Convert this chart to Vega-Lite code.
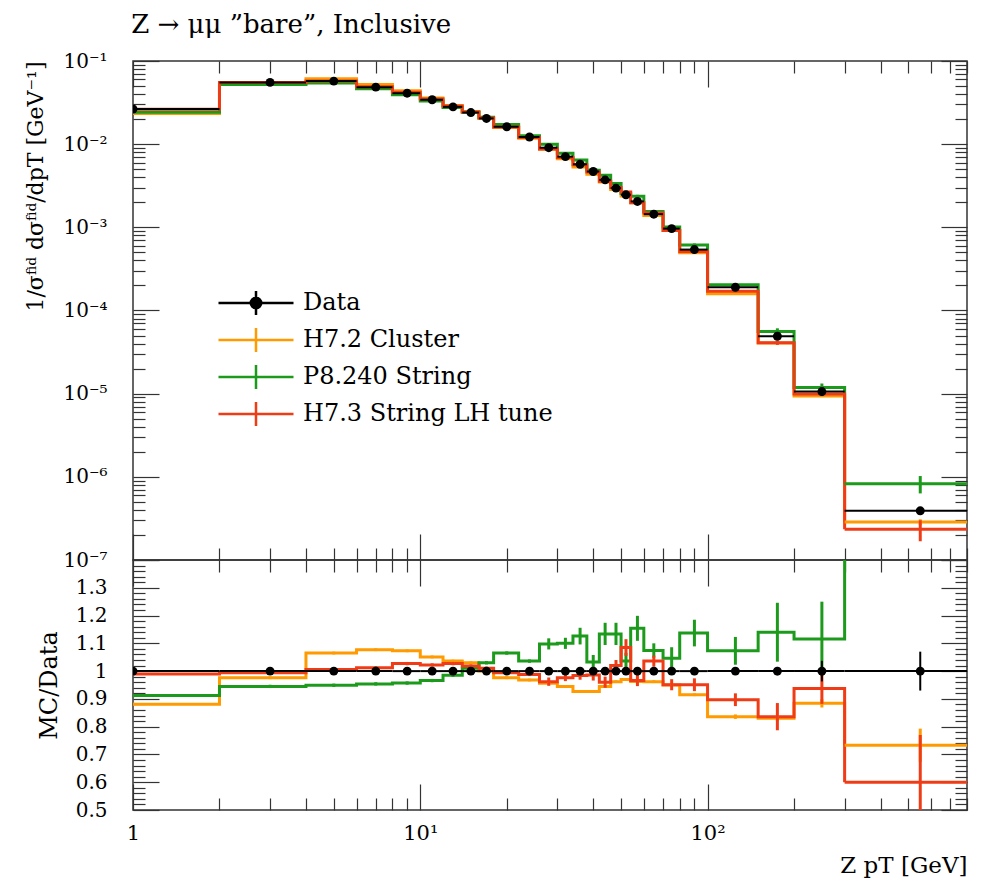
{
  "$schema": "https://vega.github.io/schema/vega-lite/v6.json",
  "padding": {"left": 24, "top": 12, "right": 5, "bottom": 0},
  "title": {"text": "Z → μμ ”bare”, Inclusive", "anchor": "start", "frame": "bounds", "dx": 107, "font": "DejaVu Serif", "fontSize": 26, "fontWeight": "normal", "color": "#000", "offset": 12},
  "datasets": {
    "h": [
      {"s":"H7.2 Cluster","lo":1,"hi":2,"c":1,"y":0.02335,"ye":0.000133,"r":0.881,"re":0.005},
      {"s":"H7.2 Cluster","lo":2,"hi":4,"c":3,"y":0.05397,"ye":0.000277,"r":0.976,"re":0.005},
      {"s":"H7.2 Cluster","lo":4,"hi":6,"c":5,"y":0.06102,"ye":0.000287,"r":1.065,"re":0.005},
      {"s":"H7.2 Cluster","lo":6,"hi":8,"c":7,"y":0.05223,"ye":0.000243,"r":1.077,"re":0.005},
      {"s":"H7.2 Cluster","lo":8,"hi":10,"c":9,"y":0.04399,"ye":0.000205,"r":1.073,"re":0.005},
      {"s":"H7.2 Cluster","lo":10,"hi":12,"c":11,"y":0.03594,"ye":0.000171,"r":1.051,"re":0.005},
      {"s":"H7.2 Cluster","lo":12,"hi":14,"c":13,"y":0.02911,"ye":0.000141,"r":1.036,"re":0.005},
      {"s":"H7.2 Cluster","lo":14,"hi":16,"c":15,"y":0.02472,"ye":0.00012,"r":1.03,"re":0.005},
      {"s":"H7.2 Cluster","lo":16,"hi":18,"c":17,"y":0.0204,"ye":0.000102,"r":1.0,"re":0.005},
      {"s":"H7.2 Cluster","lo":18,"hi":22,"c":20,"y":0.01581,"ye":8.1e-5,"r":0.976,"re":0.005},
      {"s":"H7.2 Cluster","lo":22,"hi":26,"c":24,"y":0.01181,"ye":6.1e-5,"r":0.968,"re":0.005},
      {"s":"H7.2 Cluster","lo":26,"hi":30,"c":28,"y":0.008671,"ye":4.5e-5,"r":0.956,"re":0.005},
      {"s":"H7.2 Cluster","lo":30,"hi":34,"c":32,"y":0.006691,"ye":3.5e-5,"r":0.945,"re":0.005},
      {"s":"H7.2 Cluster","lo":34,"hi":38,"c":36,"y":0.005312,"ye":2.9e-5,"r":0.927,"re":0.005},
      {"s":"H7.2 Cluster","lo":38,"hi":42,"c":40,"y":0.004348,"ye":2.3e-5,"r":0.927,"re":0.005},
      {"s":"H7.2 Cluster","lo":42,"hi":46,"c":44,"y":0.003515,"ye":1.9e-5,"r":0.945,"re":0.005},
      {"s":"H7.2 Cluster","lo":46,"hi":50,"c":48,"y":0.002848,"ye":1.5e-5,"r":0.962,"re":0.005},
      {"s":"H7.2 Cluster","lo":50,"hi":54,"c":52,"y":0.002386,"ye":1.2e-5,"r":0.970,"re":0.005},
      {"s":"H7.2 Cluster","lo":54,"hi":60,"c":57,"y":0.001974,"ye":1.0e-5,"r":0.963,"re":0.005},
      {"s":"H7.2 Cluster","lo":60,"hi":70,"c":65,"y":0.001385,"ye":7.2e-6,"r":0.962,"re":0.005},
      {"s":"H7.2 Cluster","lo":70,"hi":80,"c":75,"y":0.0009168,"ye":4.8e-6,"r":0.950,"re":0.005},
      {"s":"H7.2 Cluster","lo":80,"hi":100,"c":90,"y":0.0004941,"ye":2.7e-6,"r":0.915,"re":0.005},
      {"s":"H7.2 Cluster","lo":100,"hi":150,"c":125,"y":0.0001588,"ye":1.5e-6,"r":0.836,"re":0.008},
      {"s":"H7.2 Cluster","lo":150,"hi":200,"c":175,"y":4.067e-5,"ye":4.9e-7,"r":0.830,"re":0.01},
      {"s":"H7.2 Cluster","lo":200,"hi":300,"c":250,"y":9.37e-6,"ye":1.6e-7,"r":0.884,"re":0.015},
      {"s":"H7.2 Cluster","lo":300,"hi":800,"c":550,"y":2.859e-7,"ye":2.3e-8,"r":0.733,"re":0.06},
      {"s":"P8.240 String","lo":1,"hi":2,"c":1,"y":0.02417,"ye":0.000159,"r":0.912,"re":0.006},
      {"s":"P8.240 String","lo":2,"hi":4,"c":3,"y":0.05226,"ye":0.000332,"r":0.945,"re":0.006},
      {"s":"P8.240 String","lo":4,"hi":6,"c":5,"y":0.05438,"ye":0.000344,"r":0.949,"re":0.006},
      {"s":"P8.240 String","lo":6,"hi":8,"c":7,"y":0.04627,"ye":0.000291,"r":0.954,"re":0.006},
      {"s":"P8.240 String","lo":8,"hi":10,"c":9,"y":0.03924,"ye":0.000246,"r":0.957,"re":0.006},
      {"s":"P8.240 String","lo":10,"hi":12,"c":11,"y":0.03304,"ye":0.000205,"r":0.966,"re":0.006},
      {"s":"P8.240 String","lo":12,"hi":14,"c":13,"y":0.02768,"ye":0.000169,"r":0.985,"re":0.006},
      {"s":"P8.240 String","lo":14,"hi":16,"c":15,"y":0.02424,"ye":0.000144,"r":1.01,"re":0.006},
      {"s":"P8.240 String","lo":16,"hi":18,"c":17,"y":0.02101,"ye":0.000122,"r":1.03,"re":0.006},
      {"s":"P8.240 String","lo":18,"hi":22,"c":20,"y":0.01725,"ye":9.7e-5,"r":1.065,"re":0.006},
      {"s":"P8.240 String","lo":22,"hi":26,"c":24,"y":0.01264,"ye":7.3e-5,"r":1.036,"re":0.006},
      {"s":"P8.240 String","lo":26,"hi":30,"c":28,"y":0.009959,"ye":0.000181,"r":1.098,"re":0.02},
      {"s":"P8.240 String","lo":30,"hi":34,"c":32,"y":0.007788,"ye":0.000142,"r":1.10,"re":0.02},
      {"s":"P8.240 String","lo":34,"hi":38,"c":36,"y":0.006452,"ye":0.000172,"r":1.126,"re":0.03},
      {"s":"P8.240 String","lo":38,"hi":42,"c":40,"y":0.004845,"ye":0.000117,"r":1.033,"re":0.025},
      {"s":"P8.240 String","lo":42,"hi":46,"c":44,"y":0.004218,"ye":0.000149,"r":1.134,"re":0.04},
      {"s":"P8.240 String","lo":46,"hi":50,"c":48,"y":0.003357,"ye":0.000118,"r":1.134,"re":0.04},
      {"s":"P8.240 String","lo":50,"hi":54,"c":52,"y":0.002549,"ye":7.4e-5,"r":1.036,"re":0.03},
      {"s":"P8.240 String","lo":54,"hi":60,"c":57,"y":0.002366,"ye":9.2e-5,"r":1.154,"re":0.045},
      {"s":"P8.240 String","lo":60,"hi":70,"c":65,"y":0.001547,"ye":3.7e-5,"r":1.074,"re":0.026},
      {"s":"P8.240 String","lo":70,"hi":80,"c":75,"y":0.001009,"ye":3.9e-5,"r":1.046,"re":0.04},
      {"s":"P8.240 String","lo":80,"hi":100,"c":90,"y":0.000614,"ye":2.6e-5,"r":1.137,"re":0.048},
      {"s":"P8.240 String","lo":100,"hi":150,"c":125,"y":0.0002039,"ye":9.5e-6,"r":1.073,"re":0.05},
      {"s":"P8.240 String","lo":150,"hi":200,"c":175,"y":5.586e-5,"ye":5.2e-6,"r":1.14,"re":0.106},
      {"s":"P8.240 String","lo":200,"hi":300,"c":250,"y":1.183e-5,"ye":1.42e-6,"r":1.116,"re":0.134},
      {"s":"P8.240 String","lo":300,"hi":800,"c":550,"y":8.27e-7,"ye":1.95e-7,"r":2.12,"re":0.5},
      {"s":"H7.3 String LH tune","lo":1,"hi":2,"c":1,"y":0.02624,"ye":0.000159,"r":0.990,"re":0.006},
      {"s":"H7.3 String LH tune","lo":2,"hi":4,"c":3,"y":0.05497,"ye":0.000332,"r":0.994,"re":0.006},
      {"s":"H7.3 String LH tune","lo":4,"hi":6,"c":5,"y":0.05764,"ye":0.000344,"r":1.006,"re":0.006},
      {"s":"H7.3 String LH tune","lo":6,"hi":8,"c":7,"y":0.04908,"ye":0.000291,"r":1.012,"re":0.006},
      {"s":"H7.3 String LH tune","lo":8,"hi":10,"c":9,"y":0.04211,"ye":0.000246,"r":1.027,"re":0.006},
      {"s":"H7.3 String LH tune","lo":10,"hi":12,"c":11,"y":0.03495,"ye":0.000205,"r":1.022,"re":0.006},
      {"s":"H7.3 String LH tune","lo":12,"hi":14,"c":13,"y":0.02886,"ye":0.000169,"r":1.027,"re":0.006},
      {"s":"H7.3 String LH tune","lo":14,"hi":16,"c":15,"y":0.02443,"ye":0.000144,"r":1.018,"re":0.006},
      {"s":"H7.3 String LH tune","lo":16,"hi":18,"c":17,"y":0.0206,"ye":0.000122,"r":1.010,"re":0.006},
      {"s":"H7.3 String LH tune","lo":18,"hi":22,"c":20,"y":0.0161,"ye":9.7e-5,"r":0.994,"re":0.006},
      {"s":"H7.3 String LH tune","lo":22,"hi":26,"c":24,"y":0.01205,"ye":7.3e-5,"r":0.988,"re":0.006},
      {"s":"H7.3 String LH tune","lo":26,"hi":30,"c":28,"y":0.008725,"ye":0.000136,"r":0.962,"re":0.015},
      {"s":"H7.3 String LH tune","lo":30,"hi":34,"c":32,"y":0.00691,"ye":8.5e-5,"r":0.976,"re":0.012},
      {"s":"H7.3 String LH tune","lo":34,"hi":38,"c":36,"y":0.005638,"ye":8.6e-5,"r":0.984,"re":0.015},
      {"s":"H7.3 String LH tune","lo":38,"hi":42,"c":40,"y":0.004624,"ye":9.4e-5,"r":0.986,"re":0.02},
      {"s":"H7.3 String LH tune","lo":42,"hi":46,"c":44,"y":0.003571,"ye":7.4e-5,"r":0.960,"re":0.02},
      {"s":"H7.3 String LH tune","lo":46,"hi":50,"c":48,"y":0.003019,"ye":5.9e-5,"r":1.020,"re":0.02},
      {"s":"H7.3 String LH tune","lo":50,"hi":54,"c":52,"y":0.002669,"ye":7.4e-5,"r":1.085,"re":0.03},
      {"s":"H7.3 String LH tune","lo":54,"hi":60,"c":57,"y":0.00198,"ye":4.1e-5,"r":0.966,"re":0.02},
      {"s":"H7.3 String LH tune","lo":60,"hi":70,"c":65,"y":0.001492,"ye":2.9e-5,"r":1.036,"re":0.02},
      {"s":"H7.3 String LH tune","lo":70,"hi":80,"c":75,"y":0.0009177,"ye":1.9e-5,"r":0.951,"re":0.02},
      {"s":"H7.3 String LH tune","lo":80,"hi":100,"c":90,"y":0.0005135,"ye":1.24e-5,"r":0.951,"re":0.023},
      {"s":"H7.3 String LH tune","lo":100,"hi":150,"c":125,"y":0.0001704,"ye":4.4e-6,"r":0.897,"re":0.023},
      {"s":"H7.3 String LH tune","lo":150,"hi":200,"c":175,"y":4.096e-5,"ye":2.4e-6,"r":0.836,"re":0.049},
      {"s":"H7.3 String LH tune","lo":200,"hi":300,"c":250,"y":9.93e-6,"ye":5.8e-7,"r":0.937,"re":0.055},
      {"s":"H7.3 String LH tune","lo":300,"hi":800,"c":550,"y":2.34e-7,"ye":6.6e-8,"r":0.60,"re":0.17},
      {"s":"Data","lo":1,"hi":2,"c":1,"y":0.0265,"ye":8e-5,"r":1,"re":0.003},
      {"s":"Data","lo":2,"hi":4,"c":3,"y":0.0553,"ye":0.000166,"r":1,"re":0.003},
      {"s":"Data","lo":4,"hi":6,"c":5,"y":0.0573,"ye":0.000172,"r":1,"re":0.003},
      {"s":"Data","lo":6,"hi":8,"c":7,"y":0.0485,"ye":0.000146,"r":1,"re":0.003},
      {"s":"Data","lo":8,"hi":10,"c":9,"y":0.041,"ye":0.000123,"r":1,"re":0.003},
      {"s":"Data","lo":10,"hi":12,"c":11,"y":0.0342,"ye":0.000103,"r":1,"re":0.003},
      {"s":"Data","lo":12,"hi":14,"c":13,"y":0.0281,"ye":8.4e-5,"r":1,"re":0.003},
      {"s":"Data","lo":14,"hi":16,"c":15,"y":0.024,"ye":7.2e-5,"r":1,"re":0.003},
      {"s":"Data","lo":16,"hi":18,"c":17,"y":0.0204,"ye":6.1e-5,"r":1,"re":0.003},
      {"s":"Data","lo":18,"hi":22,"c":20,"y":0.0162,"ye":4.9e-5,"r":1,"re":0.003},
      {"s":"Data","lo":22,"hi":26,"c":24,"y":0.0122,"ye":3.7e-5,"r":1,"re":0.003},
      {"s":"Data","lo":26,"hi":30,"c":28,"y":0.00907,"ye":2.7e-5,"r":1,"re":0.003},
      {"s":"Data","lo":30,"hi":34,"c":32,"y":0.00708,"ye":2.1e-5,"r":1,"re":0.003},
      {"s":"Data","lo":34,"hi":38,"c":36,"y":0.00573,"ye":1.7e-5,"r":1,"re":0.003},
      {"s":"Data","lo":38,"hi":42,"c":40,"y":0.00469,"ye":1.4e-5,"r":1,"re":0.003},
      {"s":"Data","lo":42,"hi":46,"c":44,"y":0.00372,"ye":1.1e-5,"r":1,"re":0.003},
      {"s":"Data","lo":46,"hi":50,"c":48,"y":0.00296,"ye":8.9e-6,"r":1,"re":0.003},
      {"s":"Data","lo":50,"hi":54,"c":52,"y":0.00246,"ye":7.4e-6,"r":1,"re":0.003},
      {"s":"Data","lo":54,"hi":60,"c":57,"y":0.00205,"ye":6.2e-6,"r":1,"re":0.003},
      {"s":"Data","lo":60,"hi":70,"c":65,"y":0.00144,"ye":4.3e-6,"r":1,"re":0.003},
      {"s":"Data","lo":70,"hi":80,"c":75,"y":0.000965,"ye":4.8e-6,"r":1,"re":0.005},
      {"s":"Data","lo":80,"hi":100,"c":90,"y":0.00054,"ye":4.3e-6,"r":1,"re":0.008},
      {"s":"Data","lo":100,"hi":150,"c":125,"y":0.00019,"ye":1.9e-6,"r":1,"re":0.01},
      {"s":"Data","lo":150,"hi":200,"c":175,"y":4.9e-5,"ye":7.4e-7,"r":1,"re":0.015},
      {"s":"Data","lo":200,"hi":300,"c":250,"y":1.06e-5,"ye":3.9e-7,"r":1,"re":0.037},
      {"s":"Data","lo":300,"hi":800,"c":550,"y":3.9e-7,"ye":2.7e-8,"r":1,"re":0.07}
    ]
  },
  "resolve": {"scale": {"color": "independent"}},
  "spacing": 0,
  "bounds": "flush",
  "vconcat": [
    {
      "width": 834,
      "height": 499,
      "data": {"name": "h"},
      "resolve": {"axis": {"x": "independent", "y": "independent"}},
      "layer": [
        {
          "mark": {"type": "line", "interpolate": "step-after", "strokeWidth": 3, "clip": true},
          "transform": [{"filter": "datum.s != 'Data'"}],
          "encoding": {
            "x": {"field": "lo", "type": "quantitative",
              "scale": {"type": "log", "domain": [1, 800], "nice": false},
              "axis": {"orient": "bottom", "title": null, "labels": false,
                "values": [1,2,3,4,5,6,7,8,9,10,20,30,40,50,60,70,80,90,100,200,300,400,500,600,700,800],
                "tickSize": {"condition": {"test": "datum.value == 1 || datum.value == 10 || datum.value == 100", "value": -26}, "value": -12}}},
            "y": {"field": "y", "type": "quantitative",
              "scale": {"type": "log", "domain": [1e-7, 0.1], "nice": false},
              "axis": {"orient": "left",
                "values": [1e-7,2e-7,3e-7,4e-7,5e-7,6e-7,7e-7,8e-7,9e-7,1e-6,2e-6,3e-6,4e-6,5e-6,6e-6,7e-6,8e-6,9e-6,1e-5,2e-5,3e-5,4e-5,5e-5,6e-5,7e-5,8e-5,9e-5,1e-4,2e-4,3e-4,4e-4,5e-4,6e-4,7e-4,8e-4,9e-4,0.001,0.002,0.003,0.004,0.005,0.006,0.007,0.008,0.009,0.01,0.02,0.03,0.04,0.05,0.06,0.07,0.08,0.09,0.1],
                "labelExpr": "abs(log(datum.value)/LN10 - round(log(datum.value)/LN10)) < 0.001 ? '10⁻' + substring('⁰¹²³⁴⁵⁶⁷⁸⁹', -round(log(datum.value)/LN10), -round(log(datum.value)/LN10) + 1) : ''",
                "tickSize": {"condition": {"test": "abs(log(datum.value)/LN10 - round(log(datum.value)/LN10)) < 0.001", "value": -26}, "value": -12},
                "labelPadding": 52, "labelFontSize": 20,
                "title": "1/σᶠⁱᵈ dσᶠⁱᵈ/dpT [GeV⁻¹]", "titleFontSize": 22, "titleAnchor": "end", "titlePadding": 15}},
            "color": {"field": "s", "type": "nominal",
              "scale": {"domain": ["Data", "H7.2 Cluster", "P8.240 String", "H7.3 String LH tune"], "range": ["#000000", "#ff9a00", "#1c9a1c", "#f03c16"]},
              "legend": {"orient": "none", "legendX": 103, "legendY": 222, "title": null, "padding": 0, "rowPadding": 0,
                "symbolType": "M-2,0H2M0,-0.64V0.64", "symbolSize": 1406, "symbolStrokeWidth": 2.5,
                "labelFont": "DejaVu Serif", "labelFontSize": 24, "labelColor": "#000", "labelOffset": 27, "labelLimit": 500,
                "encode": {"symbols": {"update": {
                  "shape": {"signal": "datum.value === 'Data' ? 'M-2,0H2M0,-0.64V0.64M0.28,0A0.28,0.28 0 1 1 -0.28,0A0.28,0.28 0 1 1 0.28,0Z' : 'M-2,0H2M0,-0.64V0.64'"},
                  "fill": {"signal": "datum.value === 'Data' ? '#000' : 'transparent'"}}}}}}
          }
        },
        {
          "mark": {"type": "rule", "strokeWidth": 3, "clip": true},
          "transform": [{"filter": "datum.s != 'Data' && datum.hi == 800"}],
          "encoding": {
            "x": {"field": "lo", "type": "quantitative",
              "axis": {"orient": "top", "title": null, "labels": false,
                "values": [1,2,3,4,5,6,7,8,9,10,20,30,40,50,60,70,80,90,100,200,300,400,500,600,700,800],
                "tickSize": {"condition": {"test": "datum.value == 1 || datum.value == 10 || datum.value == 100", "value": -26}, "value": -12}}},
            "x2": {"field": "hi"},
            "y": {"field": "y", "type": "quantitative",
              "axis": {"orient": "right", "title": null, "labels": false,
                "values": [1e-7,2e-7,3e-7,4e-7,5e-7,6e-7,7e-7,8e-7,9e-7,1e-6,2e-6,3e-6,4e-6,5e-6,6e-6,7e-6,8e-6,9e-6,1e-5,2e-5,3e-5,4e-5,5e-5,6e-5,7e-5,8e-5,9e-5,1e-4,2e-4,3e-4,4e-4,5e-4,6e-4,7e-4,8e-4,9e-4,0.001,0.002,0.003,0.004,0.005,0.006,0.007,0.008,0.009,0.01,0.02,0.03,0.04,0.05,0.06,0.07,0.08,0.09,0.1],
                "tickSize": {"condition": {"test": "abs(log(datum.value)/LN10 - round(log(datum.value)/LN10)) < 0.001", "value": -26}, "value": -12}}},
            "color": {"field": "s", "type": "nominal"}
          }
        },
        {
          "mark": {"type": "errorbar", "thickness": 3, "clip": true},
          "transform": [{"filter": "datum.s != 'Data'"}],
          "encoding": {
            "x": {"field": "c", "type": "quantitative", "axis": null},
            "y": {"field": "y", "type": "quantitative", "axis": null},
            "yError": {"field": "ye"},
            "color": {"field": "s", "type": "nominal"}
          }
        },
        {
          "mark": {"type": "rule", "color": "#000", "strokeWidth": 2, "clip": true},
          "transform": [{"filter": "datum.s == 'Data'"}],
          "encoding": {
            "x": {"field": "lo", "type": "quantitative", "axis": null},
            "x2": {"field": "hi"},
            "y": {"field": "y", "type": "quantitative", "axis": null}
          }
        },
        {
          "mark": {"type": "errorbar", "thickness": 2, "color": "#000", "clip": true},
          "transform": [{"filter": "datum.s == 'Data'"}],
          "encoding": {
            "x": {"field": "c", "type": "quantitative", "axis": null},
            "y": {"field": "y", "type": "quantitative", "axis": null},
            "yError": {"field": "ye"}
          }
        },
        {
          "mark": {"type": "point", "filled": true, "color": "#000", "size": 80, "opacity": 1, "clip": true},
          "transform": [{"filter": "datum.s == 'Data'"}],
          "encoding": {
            "x": {"field": "c", "type": "quantitative", "axis": null},
            "y": {"field": "y", "type": "quantitative", "axis": null}
          }
        }
      ]
    },
    {
      "width": 834,
      "height": 250,
      "data": {"name": "h"},
      "resolve": {"axis": {"x": "independent", "y": "independent"}},
      "layer": [
        {
          "mark": {"type": "line", "interpolate": "step-after", "strokeWidth": 3, "clip": true},
          "transform": [{"filter": "datum.s != 'Data'"}],
          "encoding": {
            "x": {"field": "lo", "type": "quantitative",
              "scale": {"type": "log", "domain": [1, 800], "nice": false},
              "axis": {"orient": "bottom",
                "values": [1,2,3,4,5,6,7,8,9,10,20,30,40,50,60,70,80,90,100,200,300,400,500,600,700,800],
                "labelExpr": "datum.value == 1 ? '1' : datum.value == 10 ? '10¹' : datum.value == 100 ? '10²' : ''",
                "tickSize": {"condition": {"test": "datum.value == 1 || datum.value == 10 || datum.value == 100", "value": -26}, "value": -12},
                "labelPadding": 38, "labelFontSize": 21, "labelFlush": false,
                "title": "Z pT [GeV]", "titleFontSize": 23, "titleAnchor": "end", "titlePadding": -3}},
            "y": {"field": "r", "type": "quantitative",
              "scale": {"domain": [0.5, 1.4], "nice": false, "zero": false},
              "axis": {"orient": "left",
                "values": [0.5,0.52,0.54,0.56,0.58,0.6,0.62,0.64,0.66,0.68,0.7,0.72,0.74,0.76,0.78,0.8,0.82,0.84,0.86,0.88,0.9,0.92,0.94,0.96,0.98,1,1.02,1.04,1.06,1.08,1.1,1.12,1.14,1.16,1.18,1.2,1.22,1.24,1.26,1.28,1.3,1.32,1.34,1.36,1.38,1.4],
                "labelExpr": "abs(datum.value*10 - round(datum.value*10)) < 0.001 && datum.value < 1.35 ? (abs(datum.value - 1) < 0.001 ? '1' : format(datum.value, '.1f')) : ''",
                "tickSize": {"condition": {"test": "abs(datum.value*10 - round(datum.value*10)) < 0.001", "value": -26}, "value": -12},
                "labelPadding": 52, "labelFontSize": 20,
                "title": "MC/Data", "titleFontSize": 24, "titlePadding": 14}},
            "color": {"field": "s", "type": "nominal",
              "scale": {"domain": ["Data", "H7.2 Cluster", "P8.240 String", "H7.3 String LH tune"], "range": ["#000000", "#ff9a00", "#1c9a1c", "#f03c16"]},
              "legend": null}
          }
        },
        {
          "mark": {"type": "rule", "strokeWidth": 3, "clip": true},
          "transform": [{"filter": "datum.s != 'Data' && datum.hi == 800"}],
          "encoding": {
            "x": {"field": "lo", "type": "quantitative",
              "axis": {"orient": "top", "title": null, "labels": false,
                "values": [1,2,3,4,5,6,7,8,9,10,20,30,40,50,60,70,80,90,100,200,300,400,500,600,700,800],
                "tickSize": {"condition": {"test": "datum.value == 1 || datum.value == 10 || datum.value == 100", "value": -26}, "value": -12}}},
            "x2": {"field": "hi"},
            "y": {"field": "r", "type": "quantitative",
              "axis": {"orient": "right", "title": null, "labels": false,
                "values": [0.5,0.52,0.54,0.56,0.58,0.6,0.62,0.64,0.66,0.68,0.7,0.72,0.74,0.76,0.78,0.8,0.82,0.84,0.86,0.88,0.9,0.92,0.94,0.96,0.98,1,1.02,1.04,1.06,1.08,1.1,1.12,1.14,1.16,1.18,1.2,1.22,1.24,1.26,1.28,1.3,1.32,1.34,1.36,1.38,1.4],
                "tickSize": {"condition": {"test": "abs(datum.value*10 - round(datum.value*10)) < 0.001", "value": -26}, "value": -12}}},
            "color": {"field": "s", "type": "nominal", "legend": null}
          }
        },
        {
          "mark": {"type": "errorbar", "thickness": 3, "clip": true},
          "transform": [{"filter": "datum.s != 'Data'"}],
          "encoding": {
            "x": {"field": "c", "type": "quantitative", "axis": null},
            "y": {"field": "r", "type": "quantitative", "axis": null},
            "yError": {"field": "re"},
            "color": {"field": "s", "type": "nominal", "legend": null}
          }
        },
        {
          "mark": {"type": "rule", "color": "#000", "strokeWidth": 2, "clip": true},
          "transform": [{"filter": "datum.s == 'Data'"}],
          "encoding": {
            "x": {"field": "lo", "type": "quantitative", "axis": null},
            "x2": {"field": "hi"},
            "y": {"field": "r", "type": "quantitative", "axis": null}
          }
        },
        {
          "mark": {"type": "errorbar", "thickness": 2, "color": "#000", "clip": true},
          "transform": [{"filter": "datum.s == 'Data'"}],
          "encoding": {
            "x": {"field": "c", "type": "quantitative", "axis": null},
            "y": {"field": "r", "type": "quantitative", "axis": null},
            "yError": {"field": "re"}
          }
        },
        {
          "mark": {"type": "point", "filled": true, "color": "#000", "size": 80, "opacity": 1, "clip": true},
          "transform": [{"filter": "datum.s == 'Data'"}],
          "encoding": {
            "x": {"field": "c", "type": "quantitative", "axis": null},
            "y": {"field": "r", "type": "quantitative", "axis": null}
          }
        }
      ]
    }
  ],
  "config": {
    "font": "DejaVu Serif",
    "view": {"stroke": "#333333", "strokeWidth": 1.5},
    "axis": {"labelFont": "DejaVu Serif", "titleFont": "DejaVu Serif", "labelColor": "#000", "titleColor": "#000", "titleFontWeight": "normal",
      "tickColor": "#333333", "tickWidth": 1.2, "domain": false, "grid": false, "labelOverlap": false, "labelBound": false, "labelFlush": false}
  }
}
